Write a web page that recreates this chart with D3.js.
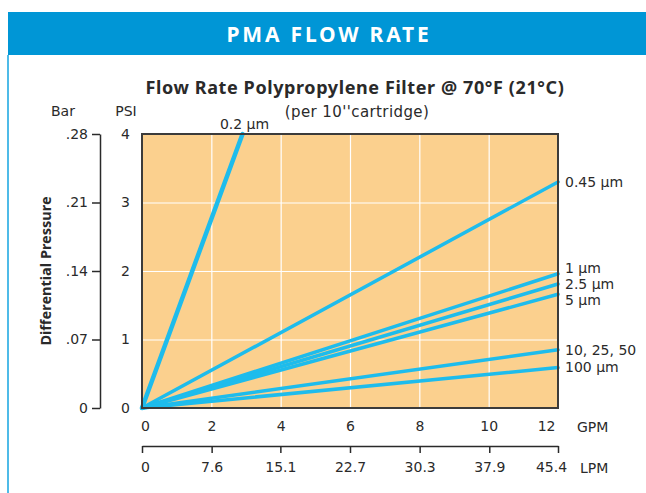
<!DOCTYPE html>
<html>
<head>
<meta charset="utf-8">
<script src="https://cdn.jsdelivr.net/npm/d3@7"></script>
<style>
  body { margin: 0; background: #fff; }
  text { font-family: "DejaVu Sans", "Noto Sans", sans-serif; fill: #2a2a2a; }
</style>
</head>
<body>
<div id="chart"></div>
<script>
// filter grades and the end point of each pressure-drop line (starts at 0,0)
const filters = ["0.2 μm", "0.45 μm", "1 μm", "2.5 μm", "5 μm", "10, 25, 50", "100 μm"];
const endGpm = [2.9, 12, 12, 12, 12, 12, 12];
const endPsi = [4, 3.3, 1.96, 1.81, 1.66, 0.85, 0.59];

const gpmTicks = [0, 2, 4, 6, 8, 10, 12];
const lpmTicks = [0, 7.6, 15.1, 22.7, 30.3, 37.9, 45.4];
const psiTicks = [0, 1, 2, 3, 4];
const barTicks = [0, 0.07, 0.14, 0.21, 0.28];

const width = 646, height = 493;
const plot = { left: 142, right: 558, top: 134, bottom: 408 };

const svg = d3.select("#chart").append("svg")
  .attr("width", width)
  .attr("height", height);

// header band
svg.append("rect")
  .attr("x", 8).attr("y", 12)
  .attr("width", width - 8).attr("height", 43)
  .attr("fill", "#0096d6");

svg.append("text")
  .attr("x", 329).attr("y", 42)
  .attr("text-anchor", "middle")
  .style("font-family", "'Noto Sans', sans-serif")
  .style("fill", "#fff")
  .style("font-size", "21px")
  .style("font-weight", "bold")
  .style("letter-spacing", "2.8px")
  .text("PMA FLOW RATE");

svg.append("rect")
  .attr("x", 7).attr("y", 55)
  .attr("width", 2).attr("height", height - 55)
  .attr("fill", "#4fbbe8");

// scales
var x = d3.scaleLinear().domain([0, 12]).range([plot.left, plot.right]);
var xL = d3.scaleLinear().domain([0, 45.4]).range([plot.left, plot.right]);
var y = d3.scaleLinear().domain([0, 4]).range([plot.bottom, plot.top]);
var yB = d3.scaleLinear().domain([0, 0.28]).range([plot.bottom, plot.top]);

// plot background
svg.append("rect")
  .attr("x", plot.left).attr("y", plot.top)
  .attr("width", plot.right - plot.left)
  .attr("height", plot.bottom - plot.top)
  .attr("fill", "#fbd08e");

// gridlines
svg.append("g")
  .attr("transform", "translate(0," + plot.bottom + ")")
  .call(d3.axisBottom(x).tickValues(gpmTicks.slice(1, -1))
    .tickSize(-(plot.bottom - plot.top)).tickFormat(""))
  .call(g => g.select(".domain").remove())
  .selectAll("line").attr("stroke", "#fff").attr("stroke-width", 1.2);

svg.append("g")
  .attr("transform", "translate(" + plot.left + ",0)")
  .call(d3.axisLeft(y).tickValues(psiTicks.slice(1, -1))
    .tickSize(-(plot.right - plot.left)).tickFormat(""))
  .call(g => g.select(".domain").remove())
  .selectAll("line").attr("stroke", "#fff").attr("stroke-width", 1.2);

// flow lines
var line = d3.line().x(d => x(d[0])).y(d => y(d[1]));

svg.append("g").selectAll("path")
  .data(filters.map((f, i) => ({ name: f, pts: [[0, 0], [endGpm[i], endPsi[i]]] })))
  .join("path")
  .attr("d", d => line(d.pts))
  .attr("fill", "none")
  .attr("stroke", "#1ebcec")
  .attr("stroke-width", (d, i) => i === 0 ? 4.5 : 3.5)
  .attr("stroke-linecap", "round");

// plot frame
svg.append("rect")
  .attr("x", plot.left).attr("y", plot.top)
  .attr("width", plot.right - plot.left)
  .attr("height", plot.bottom - plot.top)
  .attr("fill", "none")
  .attr("stroke", "#3b3b3b")
  .attr("stroke-width", 2);

// axes
function styleAxis(g) {
  g.selectAll("text").style("font-size", "14px").style("fill", "#2a2a2a");
  g.selectAll("line").attr("stroke", "#2a2a2a").attr("stroke-width", 1.5);
  g.select(".domain").attr("stroke", "#2a2a2a").attr("stroke-width", 1.5);
}

var gx = svg.append("g")
  .attr("transform", "translate(0," + plot.bottom + ")")
  .call(d3.axisBottom(x).tickValues(gpmTicks).tickSize(0).tickPadding(13).tickFormat(d3.format("d")))
  .call(g => g.select(".domain").remove())
  .call(styleAxis);
gx.selectAll(".tick text").filter(d => d === 12).attr("text-anchor", "end").attr("dx", "-3");
gx.selectAll(".tick text").filter(d => d === 0).attr("dx", "3");

var gl = svg.append("g")
  .attr("transform", "translate(0,446)")
  .call(d3.axisBottom(xL).tickValues(lpmTicks).tickSize(7).tickSizeOuter(0).tickPadding(9)
    .tickFormat(d => d === 0 ? "0" : d3.format(".1f")(d)))
  .call(styleAxis);
gl.selectAll(".tick text").filter(d => d === 45.4).attr("dx", "-7");
gl.selectAll(".tick text").filter(d => d === 0).attr("dx", "3");

svg.append("g")
  .attr("transform", "translate(" + plot.left + ",0)")
  .call(d3.axisLeft(y).tickValues(psiTicks).tickSize(0).tickPadding(12).tickFormat(d3.format("d")))
  .call(g => g.select(".domain").remove())
  .call(styleAxis);

svg.append("g")
  .attr("transform", "translate(100,0)")
  .call(d3.axisLeft(yB).tickValues(barTicks).tickSize(8).tickSizeOuter(0).tickPadding(4)
    .tickFormat(d => d === 0 ? "0" : d3.format(".2f")(d).replace("0.", ".")))
  .call(styleAxis);

// unit labels
svg.append("text").attr("x", 63).attr("y", 116).attr("text-anchor", "middle")
  .style("font-size", "14px").text("Bar");
svg.append("text").attr("x", 126).attr("y", 116).attr("text-anchor", "middle")
  .style("font-size", "14px").text("PSI");
svg.append("text").attr("x", 577).attr("y", 432)
  .style("font-size", "14px").text("GPM");
svg.append("text").attr("x", 580).attr("y", 473)
  .style("font-size", "14px").text("LPM");

svg.append("text")
  .attr("transform", "translate(51,271) rotate(-90)")
  .attr("text-anchor", "middle")
  .style("font-family", "'Noto Sans', sans-serif")
  .style("font-size", "14.5px")
  .style("font-weight", "bold")
  .text("Differential Pressure");

// titles
svg.append("text")
  .attr("x", 355).attr("y", 94)
  .attr("text-anchor", "middle")
  .style("font-family", "'Noto Sans', sans-serif")
  .style("font-size", "18px")
  .style("font-weight", "bold")
  .style("letter-spacing", "0.6px")
  .text("Flow Rate Polypropylene Filter @ 70°F (21°C)");

svg.append("text")
  .attr("x", 357).attr("y", 117)
  .attr("text-anchor", "middle")
  .style("font-size", "15px")
  .style("letter-spacing", "0.4px")
  .text("(per 10''cartridge)");

// line labels: 0.2 above the top, others at right edge, spread so they don't overlap
svg.append("text")
  .attr("x", x(endGpm[0]) + 2).attr("y", plot.top - 5)
  .attr("text-anchor", "middle")
  .style("font-size", "14px")
  .text(filters[0]);

var labs = filters.slice(1).map((f, i) => ({ name: f, y: y(endPsi[i + 1]) }));
for (var iter = 0; iter < 50; iter++) {
  for (var j = 1; j < labs.length; j++) {
    var gap = labs[j].y - labs[j - 1].y;
    if (gap < 16) {
      var push = (16 - gap) / 2;
      labs[j].y += push;
      labs[j - 1].y -= push;
    }
  }
}

svg.append("g").selectAll("text")
  .data(labs)
  .join("text")
  .attr("x", 565)
  .attr("y", d => d.y)
  .attr("dy", "0.35em")
  .style("font-size", "14px")
  .text(d => d.name);
</script>
</body>
</html>
